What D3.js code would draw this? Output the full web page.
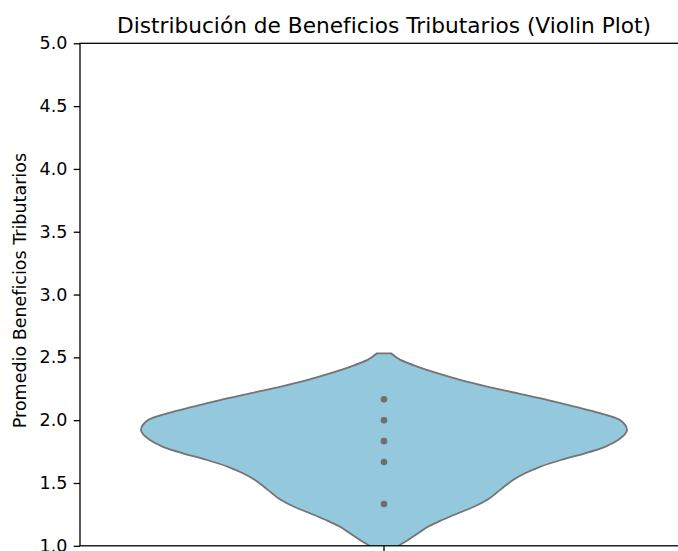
<!DOCTYPE html>
<html lang="es">
<head>
    <meta charset="UTF-8">
    <title>Violin plot</title>
    <script src="https://cdn.jsdelivr.net/npm/d3@7"></script>
    <style>
        body { margin: 0; background: #fff; }
        text { font-family: "DejaVu Sans", sans-serif; fill: #000; }
        .tick text { font-size: 17.5px; }
    </style>
</head>
<body>
<script>
    // valores
    const yTicks = [1.0, 1.5, 2.0, 2.5, 3.0, 3.5, 4.0, 4.5, 5.0];
    // contorno del violín: valor y densidad relativa (semiancho)
    const violinValues = [2.531, 2.478, 2.425, 2.372, 2.319, 2.266, 2.213, 2.160, 2.107, 2.054, 2.001,
        1.921, 1.842, 1.788, 1.736, 1.683, 1.629, 1.577, 1.523, 1.470, 1.418, 1.364, 1.311, 1.259,
        1.205, 1.152, 1.099, 1.046, 0.998, 0.95];
    const violinDensity = [7.3, 17, 34, 54, 77, 104, 134, 164, 191, 217, 236,
        243, 234, 221, 201, 177, 156, 141, 129, 120, 112, 103, 90, 74,
        58, 44, 34, 24, 14, 4];
    // observaciones (inner="point")
    const points = [2.167, 2.0, 1.833, 1.667, 1.333];

    const width = 678, height = 551;
    const margin = {left: 80, top: 43.3, right: -10, bottom: 5.2};
    const plotW = width - margin.left - margin.right;
    const plotH = height - margin.top - margin.bottom;

    const svg = d3.select("body").append("svg")
        .attr("width", width).attr("height", height);

    const y = d3.scaleLinear().domain([1, 5]).range([plotH, 0]);
    const x = d3.scaleBand().domain(["0"]).range([0, plotW]);
    const w = d3.scaleLinear().domain([0, 243]).range([0, 243]);

    const g = svg.append("g").attr("transform", `translate(${margin.left},${margin.top})`);

    g.append("clipPath").attr("id", "clip")
        .append("rect").attr("width", plotW).attr("height", plotH);

    const cx = x("0") + x.bandwidth() / 2;
    const profile = violinValues.map((v, i) => ({v: v, d: violinDensity[i]}));

    const area = d3.area()
        .y(d => y(d.v))
        .x0(d => cx - w(d.d))
        .x1(d => cx + w(d.d))
        .curve(d3.curveMonotoneY);

    const body = g.append("g").attr("clip-path", "url(#clip)");
    body.append("path")
        .datum(profile)
        .attr("d", area)
        .attr("fill", "#93c8dd")
        .attr("stroke", "#747474")
        .attr("stroke-width", 1.8);

    body.selectAll("circle")
        .data(points)
        .enter()
        .append("circle")
        .attr("cx", cx)
        .attr("cy", d => y(d))
        .attr("r", 3.3)
        .attr("fill", "#6e6e6e");

    // ejes
    const yAxis = d3.axisLeft(y).tickValues(yTicks).tickFormat(d3.format(".1f")).tickSize(6.3).tickPadding(6.3);
    const ya = g.append("g").call(yAxis);
    ya.select(".domain").remove();
    ya.selectAll(".tick line").attr("stroke", "#000").attr("stroke-width", 1.3);

    const xa = g.append("g").attr("transform", `translate(0,${plotH})`)
        .call(d3.axisBottom(x).tickSize(6.3).tickFormat(""));
    xa.select(".domain").remove();
    xa.selectAll(".tick line").attr("stroke", "#000").attr("stroke-width", 1.3);

    // marco
    g.append("rect")
        .attr("width", plotW).attr("height", plotH)
        .attr("fill", "none").attr("stroke", "#000").attr("stroke-width", 1.3);

    svg.append("text")
        .attr("x", margin.left + cx)
        .attr("y", 32.5)
        .attr("text-anchor", "middle")
        .style("font-size", "21.7px")
        .text("Distribución de Beneficios Tributarios (Violin Plot)");

    svg.append("text")
        .attr("transform", `translate(25.5,${margin.top + plotH / 2 - 4}) rotate(-90)`)
        .attr("text-anchor", "middle")
        .style("font-size", "17.5px")
        .text("Promedio Beneficios Tributarios");
</script>
</body>
</html>
